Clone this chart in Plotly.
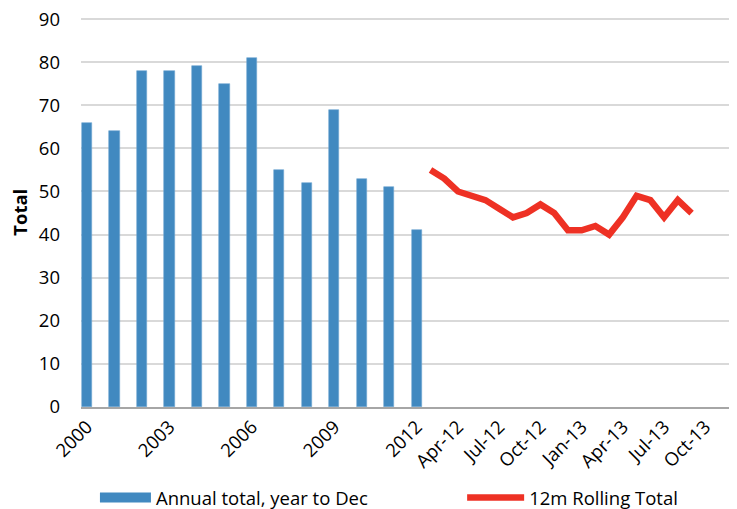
import plotly.graph_objects as go

# ---- data ----
years = ["2000", "2001", "2002", "2003", "2004", "2005", "2006",
         "2007", "2008", "2009", "2010", "2011", "2012"]
annual_total = [66, 64, 78, 78, 79, 75, 81, 55, 52, 69, 53, 51, 41]

months = ["Jan-12", "Feb-12", "Mar-12", "Apr-12", "May-12", "Jun-12", "Jul-12",
          "Aug-12", "Sep-12", "Oct-12", "Nov-12", "Dec-12", "Jan-13", "Feb-13",
          "Mar-13", "Apr-13", "May-13", "Jun-13", "Jul-13", "Aug-13", "Sep-13",
          "Oct-13"]
rolling_total = [None, 55, 53, 50, 49, 48, 46, 44, 45, 47, 45, 41, 41, 42, 40,
                 44, 49, 48, 44, 48, 45, None]

y_ticks = [0, 10, 20, 30, 40, 50, 60, 70, 80, 90]

# ---- positions: each year occupies two axis units, each month one ----
year_x = [2 * i for i in range(len(years))]
month_x = [year_x[-1] + k for k in range(len(months))]

tick_vals = [year_x[i] for i in range(0, len(years), 3)] + \
            [month_x[k] for k in range(3, len(months), 3)]
tick_text = [years[i] for i in range(0, len(years), 3)] + \
            [months[k] for k in range(3, len(months), 3)]

FONT = "Open Sans"
FS = 18.5
BLUE = "#4189C0"
RED = "#EE3124"

fig = go.Figure()
fig.add_trace(go.Bar(
    x=year_x, y=annual_total, width=0.74,
    marker=dict(color=BLUE, line=dict(color="#6FA6D2", width=0.6)),
    showlegend=False, hoverinfo="y"))
fig.add_trace(go.Scatter(
    x=month_x, y=rolling_total, mode="lines",
    line=dict(color=RED, width=6.5), showlegend=False))
# legend entries
fig.add_trace(go.Scatter(
    x=[None], y=[None], mode="lines", name="Annual total, year to Dec",
    line=dict(color=BLUE, width=10), legend="legend"))
fig.add_trace(go.Scatter(
    x=[None], y=[None], mode="lines", name="12m Rolling Total",
    line=dict(color=RED, width=6.5), legend="legend2"))

fig.update_layout(
    width=737, height=509,
    margin=dict(l=73, r=0, t=10, b=110, pad=0),
    paper_bgcolor="white", plot_bgcolor="white",
    font=dict(family=FONT, size=FS, color="#000000"),
    bargap=0,
    xaxis=dict(range=[-0.44, 47.89], tickmode="array", tickvals=tick_vals,
               ticktext=tick_text, tickangle=-45, showgrid=False,
               showline=True, linecolor="#A6A6A6", linewidth=1.5,
               ticks="", zeroline=False, tickfont=dict(size=FS),
               automargin=False),
    yaxis=dict(range=[0, 90.25], tickmode="array", tickvals=y_ticks,
               showgrid=True, gridcolor="#D9D9D9",
               gridwidth=1.5, zeroline=False, showline=False, ticks="",
               ticklabelstandoff=20, ticklabeloverflow="allow",
               tickfont=dict(size=FS), automargin=False),
    annotations=[dict(text="<b>Total</b>", xref="paper", yref="paper",
                      x=-0.093, y=0.5, xanchor="center", yanchor="middle",
                      textangle=-90, showarrow=False, borderpad=0,
                      font=dict(size=FS))],
    legend=dict(orientation="h", x=0.021, xanchor="left", y=-0.235,
                yanchor="middle", bgcolor="rgba(0,0,0,0)", itemwidth=51,
                font=dict(size=FS)),
    legend2=dict(orientation="h", x=0.574, xanchor="left", y=-0.235,
                 yanchor="middle", bgcolor="rgba(0,0,0,0)", itemwidth=57,
                 font=dict(size=FS)),
)

fig.write_html("out.html")
